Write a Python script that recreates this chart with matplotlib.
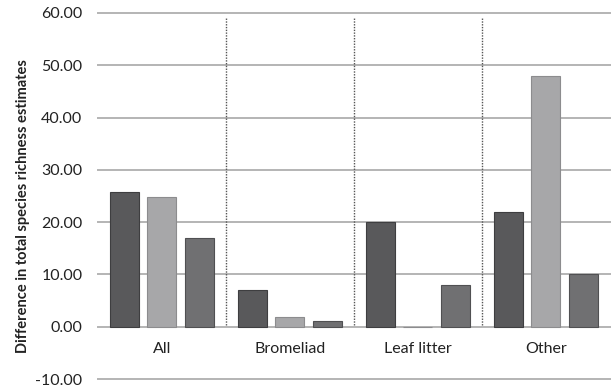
import numpy as np
import matplotlib
matplotlib.use("Agg")
import matplotlib.pyplot as plt

categories = ["All", "Bromeliad", "Leaf litter", "Other"]
series_a = [25.7, 7.0, 20.0, 21.9]
series_b = [24.9, 1.8, 0.0, 47.9]
series_c = [16.9, 1.1, 7.9, 10.1]
yticks = [-10, 0, 10, 20, 30, 40, 50, 60]

COLORS = ["#59595b", "#a7a7a9", "#707072"]
EDGES = ["#3e3e40", "#8c8c8e", "#505052"]

plt.rcParams["font.family"] = ["Lato", "DejaVu Sans"]

fig = plt.figure(figsize=(6.11, 3.89), dpi=100)
ax = fig.add_axes([0.160, 0.0257, 0.838, 0.9409])

x = np.arange(len(categories))
width = 0.23
step = 0.293
for i, vals in enumerate([series_a, series_b, series_c]):
    ax.bar(x + (i - 1) * step, vals, width=width, color=COLORS[i],
           edgecolor=EDGES[i], linewidth=0.8, zorder=3)

ax.set_xlim(-0.5, len(categories) - 0.5)
ax.set_ylim(-10, 60)
ax.set_yticks(yticks)
ax.set_yticklabels([f"{v:.2f}" for v in yticks], fontsize=11.5, color="#222222")
ax.tick_params(axis="y", length=0, pad=11)
ax.set_xticks([])
for sp in ax.spines.values():
    sp.set_visible(False)

for v in yticks:
    ax.axhline(v, color="#b4b4b4", linewidth=1.4, zorder=1, clip_on=False)

# dotted separators between categories
for b in x[:-1] + 0.5:
    ax.plot([b, b], [0.4, 59], color="#555555", linewidth=1.0,
            linestyle=(0, (1, 1)), zorder=2)

for xi, name in zip(x, categories):
    ax.text(xi, -4.3, name, ha="center", va="center", fontsize=11.5, color="#222222")

fig.text(0.037, 0.47, "Difference in total species richness estimates",
         rotation=90, ha="center", va="center", fontsize=10.5,
         fontweight="bold", color="#222222")

fig.savefig("out.png", dpi=100)
